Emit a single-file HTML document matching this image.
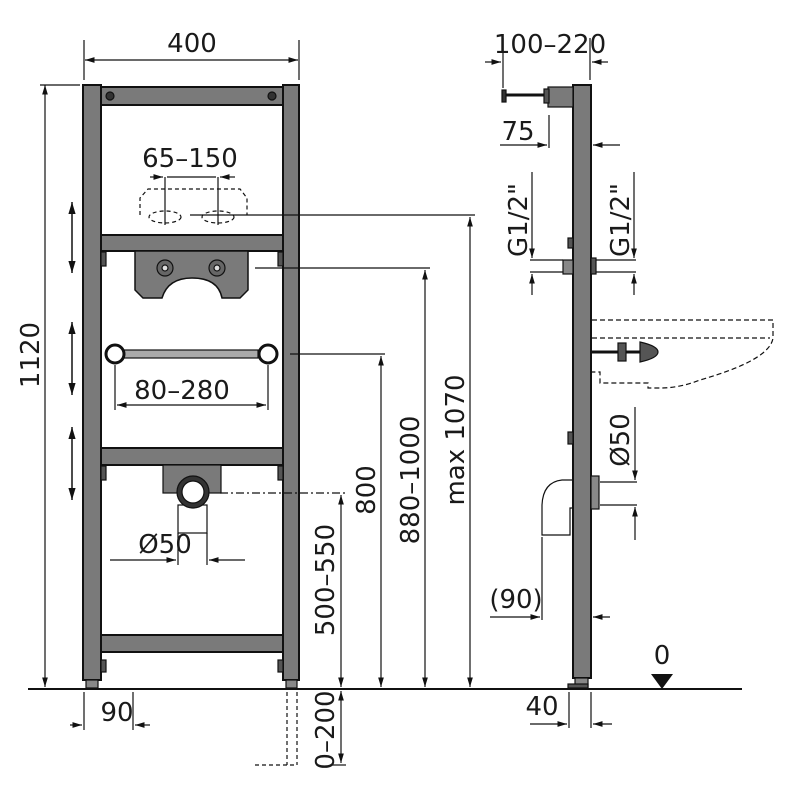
<!DOCTYPE html>
<html><head><meta charset="utf-8"><style>
html,body{margin:0;padding:0;background:#fff;}
svg{display:block;}
text{font-family:"DejaVu Sans","Liberation Sans",sans-serif;fill:#1a1a1a;}
</style></head><body>
<svg width="800" height="800" viewBox="0 0 800 800" xmlns="http://www.w3.org/2000/svg">
<defs>
<marker id="a" viewBox="0 0 10 10" refX="10" refY="5" markerWidth="8" markerHeight="8" orient="auto-start-reverse"><path d="M0,2 L10,5 L0,8 z" fill="#111"/></marker>
</defs>
<g stroke="#111" stroke-width="1.2" fill="none">
<line x1="28" y1="689" x2="742" y2="689" stroke-width="2"/>
<rect x="83" y="85" width="18" height="595" fill="#7a7a7a" stroke-width="2"/>
<rect x="283" y="85" width="16" height="595" fill="#7a7a7a" stroke-width="2"/>
<rect x="86" y="680" width="12" height="8" fill="#888"/>
<rect x="286" y="680" width="11" height="8" fill="#888"/>
<rect x="101" y="87" width="182" height="18" fill="#7a7a7a" stroke-width="2"/>
<circle cx="110" cy="96" r="4" fill="#333"/><circle cx="272" cy="96" r="4" fill="#333"/>
<rect x="101" y="235" width="182" height="16" fill="#7a7a7a" stroke-width="2"/>
<rect x="101" y="448" width="182" height="17" fill="#7a7a7a" stroke-width="2"/>
<rect x="101" y="635" width="182" height="17" fill="#7a7a7a" stroke-width="2"/>
<rect x="101" y="252" width="5" height="14" fill="#555"/><rect x="278" y="252" width="5" height="14" fill="#555"/>
<rect x="101" y="466" width="5" height="14" fill="#555"/><rect x="278" y="466" width="5" height="14" fill="#555"/>
<rect x="101" y="660" width="5" height="12" fill="#555"/><rect x="278" y="660" width="5" height="12" fill="#555"/>
<path d="M135,251 H248 V290 L240,298 H222 Q218,278 192,278 Q168,278 162,298 H143 L135,290 Z" fill="#7a7a7a" stroke-width="1.5"/>
<circle cx="165" cy="268" r="8" fill="#666"/><circle cx="165" cy="268" r="3" fill="#ddd"/>
<circle cx="217" cy="268" r="8" fill="#666"/><circle cx="217" cy="268" r="3" fill="#ddd"/>
<path d="M140,215 V198 L148,189 H240 L247,198 V215" stroke-dasharray="4,3"/>
<ellipse cx="165" cy="217" rx="16" ry="6" stroke-dasharray="4,3"/>
<ellipse cx="218" cy="217" rx="16" ry="6" stroke-dasharray="4,3"/>
<rect x="124" y="350" width="134" height="8" fill="#aaa"/>
<circle cx="115" cy="354" r="9" fill="#fff" stroke-width="3"/>
<circle cx="268" cy="354" r="9" fill="#fff" stroke-width="3"/>
<rect x="163" y="465" width="58" height="28" fill="#7a7a7a"/>
<rect x="178" y="505" width="29" height="28" fill="#fff"/>
<circle cx="193" cy="492" r="16" fill="#333"/>
<circle cx="193" cy="492" r="11" fill="#fff"/>
<path d="M287,692 V765 M297,692 V765 M255,765 H297" stroke-dasharray="4,3"/>
<line x1="190" y1="215" x2="475" y2="215"/>
<line x1="255" y1="268" x2="430" y2="268"/>
<line x1="290" y1="354" x2="385" y2="354"/>
<line x1="220" y1="493" x2="346" y2="493" stroke-dasharray="8,3,2,3"/>
<line x1="40" y1="85" x2="80" y2="85"/>
<line x1="330" y1="765" x2="346" y2="765"/>
<line x1="45" y1="85" x2="45" y2="687" marker-start="url(#a)" marker-end="url(#a)"/>
<line x1="341" y1="495" x2="341" y2="687" marker-start="url(#a)" marker-end="url(#a)"/>
<line x1="381" y1="356" x2="381" y2="687" marker-start="url(#a)" marker-end="url(#a)"/>
<line x1="425" y1="270" x2="425" y2="687" marker-start="url(#a)" marker-end="url(#a)"/>
<line x1="470" y1="217" x2="470" y2="687" marker-start="url(#a)" marker-end="url(#a)"/>
<line x1="341" y1="691" x2="341" y2="763" marker-start="url(#a)" marker-end="url(#a)"/>
<line x1="72" y1="202" x2="72" y2="273" marker-start="url(#a)" marker-end="url(#a)" stroke-width="1.5"/>
<line x1="72" y1="322" x2="72" y2="395" marker-start="url(#a)" marker-end="url(#a)" stroke-width="1.5"/>
<line x1="72" y1="427" x2="72" y2="500" marker-start="url(#a)" marker-end="url(#a)" stroke-width="1.5"/>
<line x1="84" y1="40" x2="84" y2="80"/><line x1="299" y1="40" x2="299" y2="80"/>
<line x1="85" y1="60" x2="298" y2="60" marker-start="url(#a)" marker-end="url(#a)"/>
<line x1="165" y1="177" x2="165" y2="225"/><line x1="218" y1="177" x2="218" y2="225"/>
<line x1="150" y1="177" x2="163" y2="177" marker-end="url(#a)"/><line x1="167" y1="177" x2="216" y2="177"/><line x1="235" y1="177" x2="220" y2="177" marker-end="url(#a)"/>
<line x1="115" y1="365" x2="115" y2="410"/><line x1="268" y1="365" x2="268" y2="410"/>
<line x1="117" y1="405" x2="266" y2="405" marker-start="url(#a)" marker-end="url(#a)"/>
<line x1="178" y1="533" x2="178" y2="565"/><line x1="207" y1="533" x2="207" y2="565"/>
<line x1="110" y1="560" x2="176" y2="560" marker-end="url(#a)"/><line x1="245" y1="560" x2="209" y2="560" marker-end="url(#a)"/>
<line x1="84" y1="692" x2="84" y2="730"/><line x1="133" y1="692" x2="133" y2="730"/>
<line x1="70" y1="725" x2="82" y2="725" marker-end="url(#a)"/><line x1="150" y1="725" x2="135" y2="725" marker-end="url(#a)"/>

<rect x="573" y="85" width="18" height="593" fill="#7a7a7a" stroke-width="2"/>
<rect x="575" y="678" width="13" height="10" fill="#888"/>
<rect x="568" y="684" width="20" height="4" fill="#555"/>
<rect x="548" y="87" width="25" height="20" fill="#7a7a7a"/>
<line x1="505" y1="95" x2="548" y2="95" stroke-width="3"/>
<rect x="502" y="90" width="4" height="12" fill="#333"/>
<rect x="544" y="89" width="5" height="14" fill="#555"/>
<line x1="503" y1="38" x2="503" y2="88"/><line x1="590" y1="38" x2="590" y2="80"/>
<line x1="485" y1="62" x2="501" y2="62" marker-end="url(#a)"/><line x1="608" y1="62" x2="592" y2="62" marker-end="url(#a)"/>
<line x1="549" y1="115" x2="549" y2="148"/>
<line x1="500" y1="145" x2="547" y2="145" marker-end="url(#a)"/><line x1="620" y1="145" x2="593" y2="145" marker-end="url(#a)"/>
<rect x="563" y="260" width="10" height="14" fill="#888"/>
<rect x="591" y="258" width="5" height="16" fill="#555"/>
<rect x="568" y="238" width="5" height="10" fill="#555"/>
<line x1="530" y1="260" x2="563" y2="260"/><line x1="530" y1="272" x2="563" y2="272"/>
<line x1="596" y1="260" x2="636" y2="260"/><line x1="596" y1="272" x2="636" y2="272"/>
<line x1="532" y1="172" x2="532" y2="258" marker-end="url(#a)"/><line x1="532" y1="295" x2="532" y2="274" marker-end="url(#a)"/>
<line x1="634" y1="172" x2="634" y2="258" marker-end="url(#a)"/><line x1="634" y1="295" x2="634" y2="274" marker-end="url(#a)"/>
<path d="M592,320 H773 V338 Q770,360 700,380 Q680,388 660,388 H648 V383 H600 V372 H592" stroke-dasharray="5,3"/>
<path d="M592,338 H770" stroke-dasharray="5,3"/>
<line x1="592" y1="352" x2="640" y2="352" stroke-width="3"/>
<rect x="618" y="343" width="8" height="18" fill="#555"/>
<path d="M640,342 Q658,346 658,352 Q658,358 640,362 Z" fill="#555"/>
<rect x="591" y="476" width="8" height="33" fill="#888"/>
<line x1="600" y1="482" x2="637" y2="482"/><line x1="600" y1="505" x2="637" y2="505"/>
<line x1="635" y1="407" x2="635" y2="480" marker-end="url(#a)"/><line x1="635" y1="540" x2="635" y2="507" marker-end="url(#a)"/>
<rect x="568" y="432" width="5" height="12" fill="#555"/>
<path d="M572,480 H562 Q543,482 542,505 V535 H570 V508 H572" fill="#fff"/>
<line x1="542" y1="537" x2="542" y2="620"/>
<line x1="490" y1="617" x2="540" y2="617" marker-end="url(#a)"/><line x1="610" y1="617" x2="593" y2="617" marker-end="url(#a)"/>
<line x1="569" y1="692" x2="569" y2="728"/><line x1="591" y1="692" x2="591" y2="728"/>
<line x1="530" y1="724" x2="567" y2="724" marker-end="url(#a)"/><line x1="612" y1="724" x2="593" y2="724" marker-end="url(#a)"/>
</g>
<path d="M651,674 L673,674 L662,689 Z" fill="#111"/>
<g font-size="26">
<text x="192" y="52" text-anchor="middle">400</text>
<text x="190" y="167" text-anchor="middle">65–150</text>
<text x="182" y="399" text-anchor="middle">80–280</text>
<text x="165" y="553" text-anchor="middle">Ø50</text>
<text x="117" y="721" text-anchor="middle">90</text>
<text x="550" y="53" text-anchor="middle">100–220</text>
<text x="518" y="140" text-anchor="middle">75</text>
<text x="516" y="608" text-anchor="middle">(90)</text>
<text x="542" y="715" text-anchor="middle">40</text>
<text x="662" y="664" text-anchor="middle">0</text>
<text transform="translate(39,355) rotate(-90)" text-anchor="middle">1120</text>
<text transform="translate(334,580) rotate(-90)" text-anchor="middle">500–550</text>
<text transform="translate(334,730) rotate(-90)" text-anchor="middle">0–200</text>
<text transform="translate(375,490) rotate(-90)" text-anchor="middle">800</text>
<text transform="translate(419,480) rotate(-90)" text-anchor="middle">880–1000</text>
<text transform="translate(464,440) rotate(-90)" text-anchor="middle">max 1070</text>
<text transform="translate(527,220) rotate(-90)" text-anchor="middle">G1/2"</text>
<text transform="translate(629,220) rotate(-90)" text-anchor="middle">G1/2"</text>
<text transform="translate(629,440) rotate(-90)" text-anchor="middle">Ø50</text>
</g>
</svg>
</body></html>
